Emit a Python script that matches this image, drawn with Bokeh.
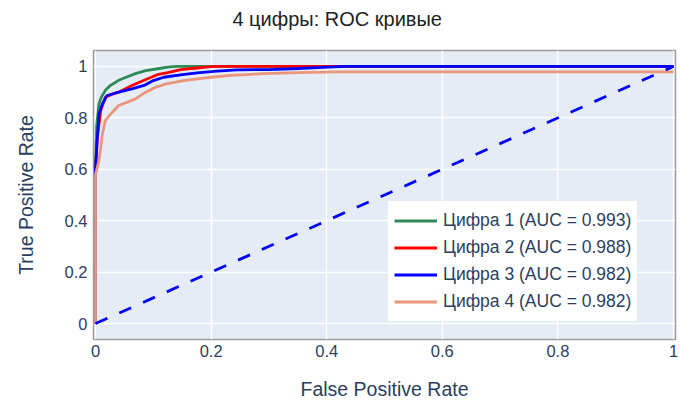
from bokeh.plotting import figure
from bokeh.models import Legend, LegendItem, Label, FixedTicker, Range1d
from bokeh.embed import file_html
from bokeh.resources import INLINE

# ---------------- data ----------------
chart_title = "4 цифры: ROC кривые"
x_title = "False Positive Rate"
y_title = "True Positive Rate"

digit_names = ["Цифра 1", "Цифра 2", "Цифра 3", "Цифра 4"]
auc_values = [0.993, 0.988, 0.982, 0.982]
colors = ["seagreen", "red", "blue", "darksalmon"]

fpr_1 = [0.0, 0.0, 0.002, 0.006, 0.01, 0.017, 0.025, 0.04, 0.055, 0.069, 0.087, 0.11, 0.125, 0.14, 0.3, 0.6, 1.0]
tpr_1 = [0.0, 0.62, 0.77, 0.855, 0.88, 0.907, 0.925, 0.946, 0.96, 0.972, 0.984, 0.992, 0.997, 1.0, 1.0, 1.0, 1.0]

fpr_2 = [0.0, 0.0, 0.003, 0.009, 0.017, 0.03, 0.04, 0.063, 0.084, 0.107, 0.125, 0.147, 0.175, 0.205, 0.3, 0.6, 1.0]
tpr_2 = [0.0, 0.6, 0.72, 0.829, 0.88, 0.893, 0.9, 0.926, 0.946, 0.968, 0.976, 0.988, 0.994, 1.0, 1.0, 1.0, 1.0]

fpr_3 = [0.0, 0.0, 0.003, 0.006, 0.012, 0.02, 0.04, 0.063, 0.084, 0.1, 0.118, 0.15, 0.176, 0.21, 0.245, 0.3, 0.35, 0.43, 1.0]
tpr_3 = [0.0, 0.6, 0.72, 0.816, 0.855, 0.887, 0.9, 0.913, 0.926, 0.945, 0.958, 0.968, 0.975, 0.982, 0.987, 0.988, 0.992, 1.0, 1.0]

fpr_4 = [0.0, 0.0, 0.006, 0.012, 0.017, 0.029, 0.04, 0.055, 0.069, 0.087, 0.105, 0.124, 0.15, 0.176, 0.2, 0.234, 0.291, 0.35, 0.42, 0.6, 1.0]
tpr_4 = [0.0, 0.58, 0.634, 0.738, 0.79, 0.822, 0.848, 0.861, 0.874, 0.9, 0.92, 0.933, 0.944, 0.952, 0.958, 0.965, 0.972, 0.976, 0.979, 0.979, 0.979]

diag_x = [0.0, 1.0]
diag_y = [0.0, 1.0]

tick_values = [0, 0.2, 0.4, 0.6, 0.8, 1]
tick_labels = ["0", "0.2", "0.4", "0.6", "0.8", "1"]

# ---------------- figure ----------------
FONT = "Liberation Sans"
TXT = "#2a3f5f"

p = figure(width=678, height=406, output_backend="svg", toolbar_location=None,
           x_range=Range1d(-0.0035, 1.0035), y_range=Range1d(-0.062, 1.062),
           min_border_left=93, min_border_right=3, min_border_top=50, min_border_bottom=67)

p.background_fill_color = "#E5ECF6"
p.border_fill_color = "white"
p.outline_line_color = "#9a9a9a"
p.outline_line_width = 1.5

for grid in (p.xgrid[0], p.ygrid[0]):
    grid.ticker = FixedTicker(ticks=tick_values)
    grid.grid_line_color = "white"
    grid.grid_line_width = 1.4

for ax in (p.xaxis[0], p.yaxis[0]):
    ax.ticker = FixedTicker(ticks=tick_values)
    ax.major_label_overrides = dict(zip(tick_values, tick_labels))
    ax.axis_line_color = None
    ax.major_tick_line_color = None
    ax.minor_tick_line_color = None
    ax.major_tick_out = 0
    ax.major_tick_in = 0
    ax.major_label_text_font = FONT
    ax.major_label_text_font_size = "16.5px"
    ax.major_label_text_color = TXT
    ax.axis_label_text_font = FONT
    ax.axis_label_text_font_size = "19.5px"
    ax.axis_label_text_font_style = "normal"
    ax.axis_label_text_color = TXT

p.xaxis[0].axis_label = x_title
p.yaxis[0].axis_label = y_title
p.xaxis[0].major_label_standoff = 5
p.xaxis[0].axis_label_standoff = 18
p.yaxis[0].major_label_standoff = 6
p.yaxis[0].axis_label_standoff = 25

fprs = [fpr_1, fpr_2, fpr_3, fpr_4]
tprs = [tpr_1, tpr_2, tpr_3, tpr_4]
items = []
for name, auc, col, fx, ty in zip(digit_names, auc_values, colors, fprs, tprs):
    r = p.line(fx, ty, line_color=col, line_width=2.8)
    items.append(LegendItem(label=f"{name} (AUC = {auc:.3f})", renderers=[r]))

p.line(diag_x, diag_y, line_color="blue", line_width=2.8, line_dash="13 13")

legend = Legend(items=items, location=(295, 18), margin=0, padding=5, spacing=0,
                glyph_width=43, glyph_height=27, label_height=27, label_standoff=6,
                label_text_font=FONT, label_text_font_size="17.5px", label_text_color=TXT,
                background_fill_color="white", background_fill_alpha=1.0,
                border_line_color="white", border_line_alpha=1.0, border_line_width=1)
p.add_layout(legend)

title = Label(x=243.7, y=32, x_units="screen", y_units="screen", text=chart_title,
              text_align="center", text_baseline="middle", text_font=FONT,
              text_font_size="20px", text_color="#222222")
p.add_layout(title, "above")

open("out.html", "w").write(file_html(p, INLINE))
